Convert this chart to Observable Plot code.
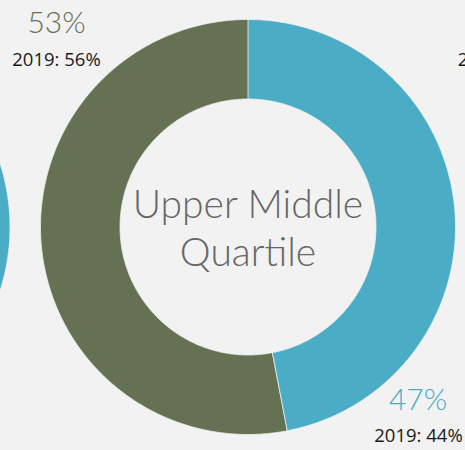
<!DOCTYPE html>
<html><head><meta charset="utf-8">
<script src="https://cdn.jsdelivr.net/npm/d3@7"></script>
<script src="https://cdn.jsdelivr.net/npm/@observablehq/plot@0.6"></script>
<style>
html,body{margin:0;padding:0;background:#f2f2f2;overflow:hidden;width:465px;height:450px}
#chart svg{display:block}
</style>
</head><body><div id="chart"></div>
<script>
// ---- data ----
const quartiles = ["Lower Middle Quartile", "Upper Middle Quartile", "Upper Quartile"];
const seriesNames = ["Series B", "Series A"];            // blue first (clockwise from top), then green
const shareBlue = [50, 47, 42];                          // % (neighbours estimated, only partly visible)
const shareGreen = [50, 53, 58];
const prevBlue = [null, 44, null];                       // 2019 values
const prevGreen = [null, 56, 59];
const showLabels = [false, true, false];

// ---- layout ----
const W = 465, H = 450;
const CX = 247.5, CY = 226.5, SPACING = 445.5;
const R_OUT = 207.5, R_IN = 128;
const colors = ["#4bacc6", "#647152"];

// build slice polygons from d3.pie angles
const pie = d3.pie().sort(null).startAngle(0).endAngle(2 * Math.PI);
const polys = [];
const labels = [];
const centers = [];
quartiles.forEach((q, i) => {
  const cx = CX + (i - 1) * SPACING;
  const arcs = pie([shareBlue[i], shareGreen[i]]);
  arcs.forEach((a, j) => {
    const n = Math.max(4, Math.ceil((a.endAngle - a.startAngle) / 0.01));
    const id = q + "|" + j;
    for (let k = 0; k <= n; k++) {
      const t = a.startAngle + (a.endAngle - a.startAngle) * k / n;
      polys.push({id, series: seriesNames[j], x: cx + R_OUT * Math.sin(t), y: CY - R_OUT * Math.cos(t)});
    }
    for (let k = n; k >= 0; k--) {
      const t = a.startAngle + (a.endAngle - a.startAngle) * k / n;
      polys.push({id, series: seriesNames[j], x: cx + R_IN * Math.sin(t), y: CY - R_IN * Math.cos(t)});
    }
  });
  if (showLabels[i]) {
    centers.push({x: cx, y: CY, text: q.replace(/ (Quartile)$/, "\n$1")});
    labels.push({x: cx - 191.5, y: CY - 204, text: shareGreen[i] + "%", kind: "share", series: seriesNames[1]});
    labels.push({x: cx + 170, y: CY + 173.5, text: shareBlue[i] + "%", kind: "share", series: seriesNames[0]});
  }
  if (prevGreen[i] != null) labels.push({x: cx - 191.5, y: CY - 166.5, text: "2019: " + prevGreen[i] + "%", kind: "prev"});
  if (prevBlue[i] != null) labels.push({x: cx + 170.5, y: CY + 209.5, text: "2019: " + prevBlue[i] + "%", kind: "prev"});
});

const chart = Plot.plot({
  width: W, height: H,
  margin: 0,
  style: {background: "#f2f2f2", overflow: "hidden"},
  x: {domain: [0, W], range: [0, W], axis: null},
  y: {domain: [0, H], range: [0, H], axis: null},
  color: {domain: seriesNames, range: colors},
  marks: [
    Plot.line(polys, {x: "x", y: "y", z: "id", fill: "series", stroke: "#eef0ee", strokeWidth: 0.8, curve: "linear-closed"}),
    Plot.text(centers, {x: "x", y: "y", text: "text", fill: "#666666", fontSize: 39, fontWeight: 300, fontFamily: "Lato, 'Open Sans', sans-serif", lineHeight: 1.22}),
    Plot.text(labels.filter(d => d.kind === "share"), {x: "x", y: "y", text: "text", fill: "series", fontSize: 30, fontWeight: 300, fontFamily: "Lato, 'Open Sans', sans-serif"}),
    Plot.text(labels.filter(d => d.kind === "prev"), {x: "x", y: "y", text: "text", fill: "#1a1a1a", fontSize: 18.5, fontFamily: "'Open Sans', sans-serif"})
  ]
});
document.getElementById("chart").appendChild(chart);
</script>
</body></html>
